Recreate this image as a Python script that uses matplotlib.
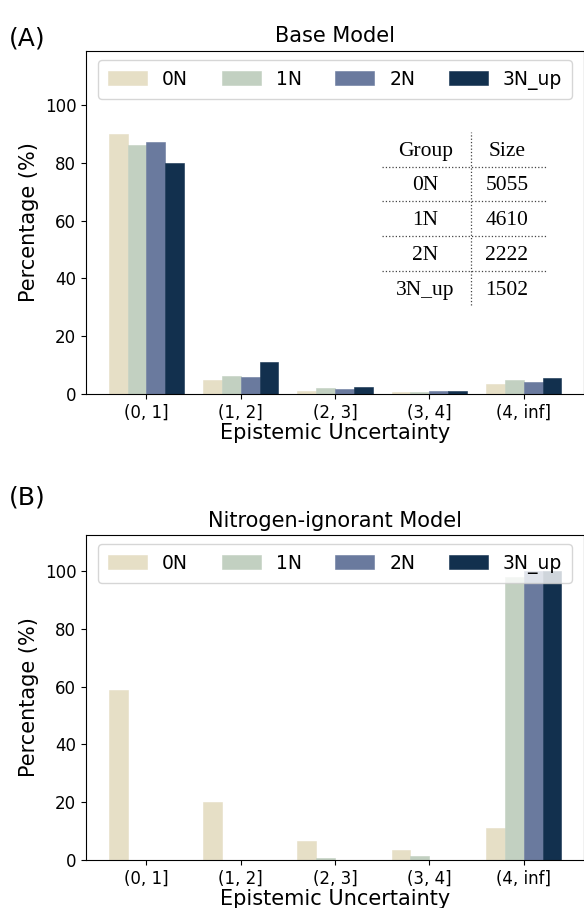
import numpy as np
import matplotlib
matplotlib.use("Agg")
import matplotlib.pyplot as plt

# =========================================================
# DATA
# =========================================================
bins = ["(0, 1]", "(1, 2]", "(2, 3]", "(3, 4]", "(4, inf]"]
groups = ["0N", "1N", "2N", "3N_up"]
colors = ["#E6DFC6", "#C2D0C1", "#6A7A9E", "#12304E"]

# Base model, percentage per uncertainty bin
base_0N = [90.1, 4.7, 1.0, 0.6, 3.2]
base_1N = [86.4, 6.0, 1.8, 0.5, 4.7]
base_2N = [87.2, 5.8, 1.7, 0.9, 4.1]
base_3N = [79.9, 10.9, 2.2, 0.9, 5.5]

# Nitrogen-ignorant model
ign_0N = [59.0, 20.0, 6.6, 3.4, 11.0]
ign_1N = [0.0, 0.0, 0.6, 1.4, 98.0]
ign_2N = [0.0, 0.0, 0.0, 0.0, 100.0]
ign_3N = [0.0, 0.0, 0.0, 0.0, 100.0]

# group size table
table_groups = ["0N", "1N", "2N", "3N_up"]
table_sizes = [5055, 4610, 2222, 1502]

# =========================================================
# FIGURE
# =========================================================
fig = plt.figure(figsize=(5.84, 9.08), dpi=100)
axA = fig.add_axes([0.1473, 0.5666, 0.8527, 0.3775])
axB = fig.add_axes([0.1473, 0.0529, 0.8527, 0.3579])

x = np.arange(len(bins))
width = 0.2


def draw_panel(ax, series, title, ytop):
    for i, (vals, c, name) in enumerate(zip(series, colors, groups)):
        ax.bar(x + (i - 1.5) * width, vals, width, color=c, label=name,
               edgecolor=c, linewidth=0.4)
    ax.set_xticks(x)
    ax.set_xticklabels(bins, fontsize=12)
    ax.tick_params(axis="y", labelsize=12)
    ax.set_ylim(0, ytop)
    ax.set_yticks([0, 20, 40, 60, 80, 100])
    ax.set_xlabel("Epistemic Uncertainty", fontsize=15, labelpad=1)
    ax.set_ylabel("Percentage (%)", fontsize=15)
    ax.set_title(title, fontsize=15, pad=6)
    ax.legend(loc="upper center", ncol=4, fontsize=13.5, handlelength=2.08,
              handletextpad=0.8, columnspacing=1.8, borderaxespad=0.5,
              borderpad=0.5, handleheight=0.8)


draw_panel(axA, [base_0N, base_1N, base_2N, base_3N], "Base Model", 119)
draw_panel(axB, [ign_0N, ign_1N, ign_2N, ign_3N], "Nitrogen-ignorant Model", 112.5)

# =========================================================
# SIZE TABLE (panel A)
# =========================================================
tf = dict(transform=axA.transAxes, family=["Liberation Serif", "DejaVu Serif"],
          fontsize=15.5, ha="center", va="center")
col_x = [0.681, 0.845]
row_y = [0.705, 0.608, 0.506, 0.404, 0.300]
axA.text(col_x[0], row_y[0], "Group", **tf)
axA.text(col_x[1], row_y[0], "Size", **tf)
for g, s, yy in zip(table_groups, table_sizes, row_y[1:]):
    axA.text(col_x[0], yy, g, **tf)
    axA.text(col_x[1], yy, str(s), **tf)

line_kw = dict(transform=axA.transAxes, color="#444444", linestyle=":", linewidth=0.9)
axA.plot([0.7725, 0.7725], [0.258, 0.764], **line_kw)
for yy in [0.662, 0.562, 0.460, 0.358]:
    axA.plot([0.594, 0.925], [yy, yy], **line_kw)

# panel letters
fig.text(0.015, 0.958, "(A)", fontsize=18, va="center")
fig.text(0.015, 0.452, "(B)", fontsize=18, va="center")

fig.savefig("out.png", dpi=100)
